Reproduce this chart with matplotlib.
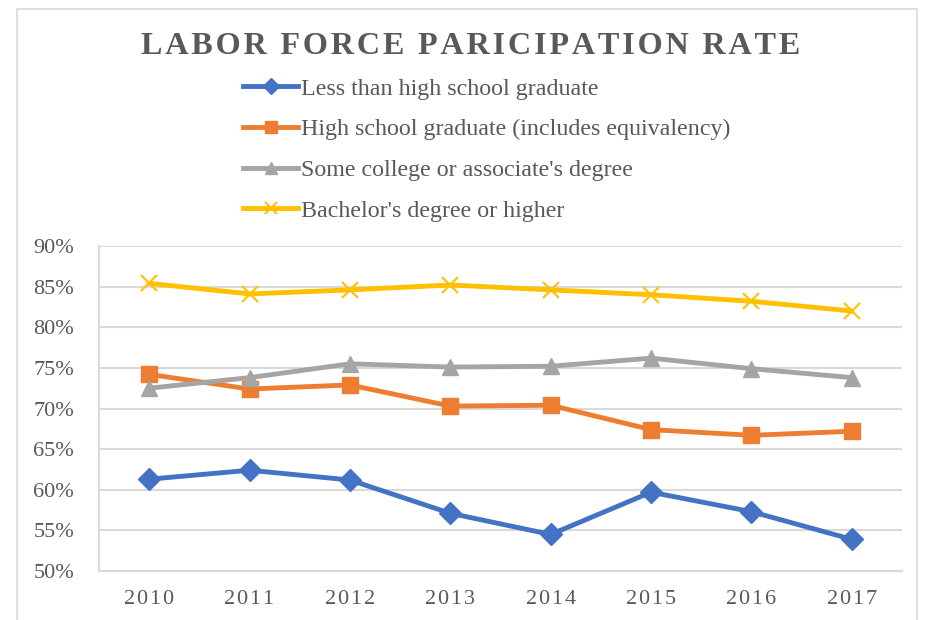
import matplotlib
matplotlib.use('Agg')
import matplotlib.pyplot as plt
from matplotlib.patches import Rectangle
from matplotlib.ticker import FuncFormatter

years = [2010, 2011, 2012, 2013, 2014, 2015, 2016, 2017]
less_than_hs = [61.3, 62.4, 61.2, 57.1, 54.5, 59.7, 57.3, 53.9]
hs_grad = [74.2, 72.4, 72.9, 70.3, 70.4, 67.4, 66.7, 67.2]
some_college = [72.5, 73.8, 75.5, 75.1, 75.2, 76.2, 74.9, 73.8]
bachelors = [85.4, 84.1, 84.6, 85.2, 84.6, 84.0, 83.2, 82.0]

series_names = [
    'Less than high school graduate',
    'High school graduate (includes equivalency)',
    "Some college or associate's degree",
    "Bachelor's degree or higher",
]

plt.rcParams['font.family'] = ['Liberation Serif', 'DejaVu Serif']
text_col = '#595959'
grid_col = '#d9d9d9'

fig = plt.figure(figsize=(9.34, 6.2), dpi=100)
# chart frame
fig.patches.append(Rectangle((17 / 934, -0.05), 900 / 934, 1.05 - 9 / 620,
                             transform=fig.transFigure, fill=False,
                             edgecolor=grid_col, lw=1.2))

ax = fig.add_axes([99 / 934, 49 / 620, 803 / 934, 325 / 620])

x = list(range(len(years)))
styles = [
    (less_than_hs, '#4472C4', 'D', 11),
    (hs_grad, '#ED7D31', 's', 11),
    (some_college, '#A5A5A5', '^', 12),
    (bachelors, '#FFC000', 'x', 11),
]
for (vals, col, mk, ms), name in zip(styles, series_names):
    ax.plot(x, [v / 100 for v in vals], color=col, lw=3.5, marker=mk,
            markersize=ms, markeredgewidth=1.5 if mk == 'x' else 1,
            markeredgecolor=col, label=name)

ax.set_xlim(-0.5, len(years) - 0.5)
ax.set_ylim(0.5, 0.9)
ax.set_yticks([0.5 + 0.05 * i for i in range(9)])
ax.yaxis.set_major_formatter(FuncFormatter(lambda v, p: f'{round(v * 100)}%'))
ax.set_xticks(x)
ax.set_xticklabels(['\u200a'.join(str(y)) for y in years])
ax.tick_params(axis='both', length=0, labelcolor=text_col, labelsize=16)
ax.tick_params(axis='x', pad=14)
ax.tick_params(axis='y', pad=18)
ax.grid(axis='y', color=grid_col, lw=1.5)
ax.set_axisbelow(True)
for s in ['top', 'right']:
    ax.spines[s].set_visible(False)
for s in ['left', 'bottom']:
    ax.spines[s].set_color(grid_col)
    ax.spines[s].set_linewidth(1.5)

fig.text(471 / 934, 1 - 54 / 620, '\u200a'.join('LABOR FORCE PARICIPATION RATE'),
         ha='center', va='baseline', fontsize=23.2, fontweight='bold',
         color=text_col)

leg = fig.legend(loc='upper left', bbox_to_anchor=(243 / 934, 1 - 78 / 620),
                 frameon=False, fontsize=17.3, labelcolor=text_col,
                 handlelength=2.3, handletextpad=0.1, labelspacing=0.78,
                 markerscale=0.75, borderaxespad=0, borderpad=0)

fig.savefig('out.png', dpi=100)
